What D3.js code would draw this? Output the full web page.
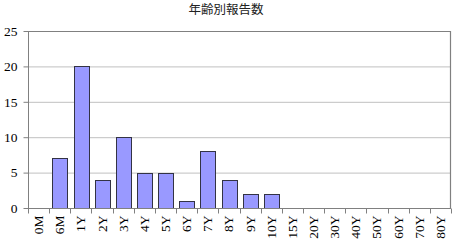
<!DOCTYPE html>
<html>
<head>
<meta charset="utf-8">
<script src="https://cdn.jsdelivr.net/npm/d3@7"></script>
<style>
  body { margin: 0; background: #fff; }
  svg { display: block; }
  .tick text { font-family: "Liberation Serif", "DejaVu Serif", serif; font-size: 13.5px; fill: #000; }
</style>
</head>
<body>
<svg id="chart"></svg>
<script>
let ages = ["0M", "6M", "1Y", "2Y", "3Y", "4Y", "5Y", "6Y", "7Y", "8Y", "9Y", "10Y",
            "15Y", "20Y", "30Y", "40Y", "50Y", "60Y", "70Y", "80Y"];
let counts = [0, 7, 20, 4, 10, 5, 5, 1, 8, 4, 2, 2, 0, 0, 0, 0, 0, 0, 0, 0];
let yTicks = [0, 5, 10, 15, 20, 25];
let title = "年齢別報告数";

let width = 453;
let height = 248;
let margin = {top: 31, right: 2, bottom: 40, left: 28};

let svg = d3.select("#chart")
    .attr("width", width)
    .attr("height", height);

let x = d3.scaleBand()
    .domain(ages)
    .range([margin.left, width - margin.right])
    .paddingInner(0.31)
    .paddingOuter(0.155);

let y = d3.scaleLinear()
    .domain([0, 25])
    .range([height - margin.bottom, margin.top]);

// gridlines
svg.append("g")
    .selectAll("line")
    .data(yTicks.slice(1, -1))
    .join("line")
    .attr("x1", margin.left)
    .attr("x2", width - margin.right)
    .attr("y1", d => y(d) + 0.5)
    .attr("y2", d => y(d) + 0.5)
    .attr("stroke", "#c0c0c0")
    .attr("stroke-width", 1);

// plot area border (top + right)
svg.append("path")
    .attr("d", `M${margin.left},${y(25) + 0.5}H${width - margin.right - 0.5}V${y(0)}`)
    .attr("fill", "none")
    .attr("stroke", "#808080")
    .attr("stroke-width", 1.2);

// bars
svg.append("g")
    .selectAll("rect")
    .data(ages.map((a, i) => ({age: a, n: counts[i]})).filter(d => d.n > 0))
    .join("rect")
    .attr("x", d => Math.round(x(d.age)) + 0.5)
    .attr("y", d => Math.round(y(d.n)) + 0.5)
    .attr("width", Math.round(x.bandwidth()))
    .attr("height", d => Math.round(y(0)) - Math.round(y(d.n)))
    .attr("fill", "#9999ff")
    .attr("stroke", "#333344")
    .attr("stroke-width", 1);

// y axis
let yAxis = svg.append("g")
    .attr("transform", `translate(${margin.left + 0.5},0)`)
    .call(d3.axisLeft(y).tickValues(yTicks).tickSize(5).tickPadding(6));
yAxis.selectAll("line, path").attr("stroke", "#808080");
yAxis.select(".domain").attr("d", `M0,${y(25)}V${y(0)}`);

// x axis: ticks sit on band boundaries like Excel
let xAxis = svg.append("g")
    .attr("transform", `translate(0,${y(0) + 0.5})`);
xAxis.append("line")
    .attr("x1", margin.left)
    .attr("x2", width - margin.right)
    .attr("stroke", "#808080");
xAxis.selectAll("line.tk")
    .data(d3.range(ages.length + 1))
    .join("line")
    .attr("class", "tk")
    .attr("x1", i => Math.round(margin.left + i * (width - margin.left - margin.right) / ages.length) + 0.5)
    .attr("x2", i => Math.round(margin.left + i * (width - margin.left - margin.right) / ages.length) + 0.5)
    .attr("y1", 0)
    .attr("y2", 5)
    .attr("stroke", "#808080");
xAxis.selectAll("text")
    .data(ages)
    .join("text")
    .attr("transform", d => `translate(${x(d) + x.bandwidth() / 2 + 4.5},7) rotate(-90)`)
    .attr("text-anchor", "end")
    .style("font-family", "'Liberation Serif', 'DejaVu Serif', serif")
    .style("font-size", "13.5px")
    .text(d => d);

// title
svg.append("text")
    .attr("x", 226)
    .attr("y", 14)
    .attr("text-anchor", "middle")
    .style("font-family", "'Noto Sans CJK JP', sans-serif")
    .style("font-size", "12.5px")
    .style("fill", "#222")
    .text(title);
</script>
</body>
</html>
